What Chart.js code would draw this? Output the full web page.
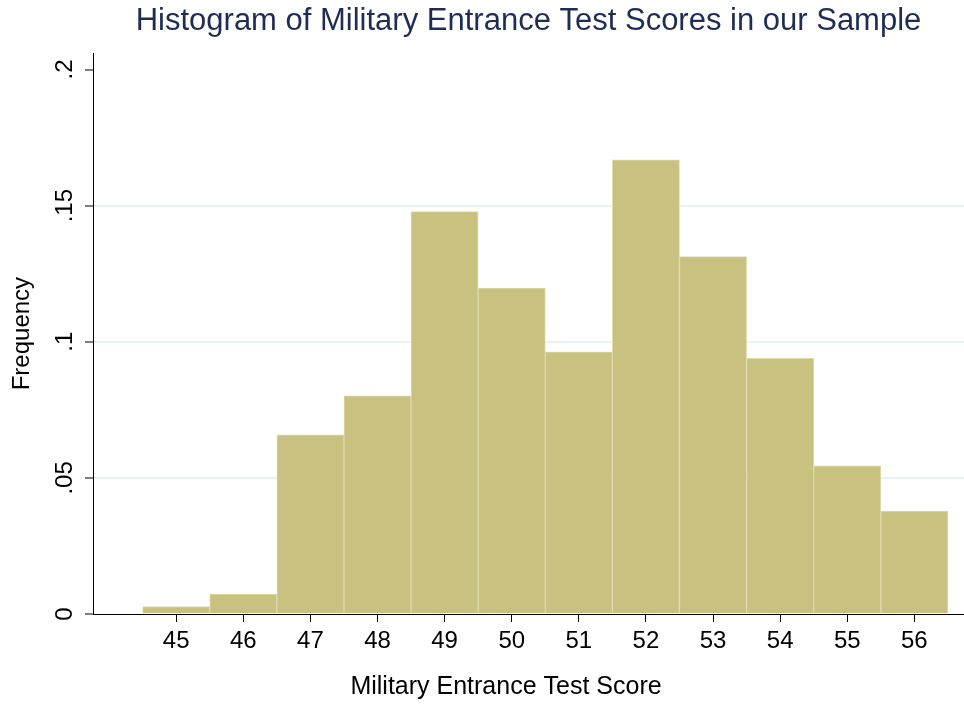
<!DOCTYPE html>
<html>
<head>
<meta charset="utf-8">
<script src="https://cdn.jsdelivr.net/npm/chart.js@4.4.1/dist/chart.umd.min.js"></script>
<style>
  html, body { margin: 0; padding: 0; background: #fff; }
  #wrap { width: 964px; height: 706px; }
</style>
</head>
<body>
<div id="wrap"><canvas id="histChart" width="964" height="706"></canvas></div>
<script>
// histogram bins (bin centre) and density per bin
var scores = [45, 46, 47, 48, 49, 50, 51, 52, 53, 54, 55, 56];
var freq = [0.0027, 0.0073, 0.0658, 0.0801, 0.1478, 0.1197, 0.0963, 0.1668, 0.1313, 0.0939, 0.0544, 0.0378];
var yTicks = [0, 0.05, 0.1, 0.15, 0.2];
var yTickLabels = ['0', '.05', '.1', '.15', '.2'];
var xTitle = 'Military Entrance Test Score';

var fontFamily = '"Liberation Sans", Arial, sans-serif';

// y tick labels are rotated like in Stata, Chart.js won't rotate them on a vertical axis
// x title is a bit left of the plot centre in the original, so it is drawn here too
var stataText = {
    id: 'stataText',
    afterDraw: function (chart) {
        var ctx = chart.ctx;
        var y = chart.scales.y;
        ctx.save();
        ctx.fillStyle = '#000';
        ctx.font = '24px ' + fontFamily;
        ctx.textAlign = 'center';
        ctx.textBaseline = 'alphabetic';
        for (var i = 0; i < yTicks.length; i++) {
            var py = y.getPixelForValue(yTicks[i]);
            ctx.save();
            ctx.translate(72, py);
            ctx.rotate(-Math.PI / 2);
            ctx.fillText(yTickLabels[i], 0, 0);
            ctx.restore();
        }
        ctx.font = '25px ' + fontFamily;
        ctx.textBaseline = 'middle';
        ctx.fillText(xTitle, 506, 687);
        ctx.restore();
    }
};

var data = scores.map(function (s, i) { return { x: s, y: freq[i] }; });

const ctx = document.getElementById('histChart').getContext('2d');
var histChart = new Chart(ctx, {
    type: 'bar',
    data: {
        datasets: [
            {
                label: 'Density',
                data: data,
                backgroundColor: 'rgb(200, 193, 127)',
                borderColor: 'rgb(222, 218, 172)',
                borderWidth: 1,
                barPercentage: 1,
                categoryPercentage: 1
            }
        ]
    },
    options: {
        responsive: false,
        animation: false,
        layout: { padding: 0 },
        plugins: {
            legend: { display: false },
            tooltip: { enabled: false },
            title: {
                display: true,
                fullSize: false,
                text: 'Histogram of Military Entrance Test Scores in our Sample',
                color: '#1e2d53',
                font: { family: fontFamily, size: 31, weight: 'normal' },
                padding: { top: 3, bottom: 13 }
            }
        },
        scales: {
            x: {
                type: 'linear',
                min: 43.76,
                max: 56.74,
                offset: false,
                afterBuildTicks: function (scale) {
                    scale.ticks = scores.map(function (v) { return { value: v }; });
                },
                afterFit: function (scale) { scale.height = 92; },
                grid: {
                    offset: false,
                    drawOnChartArea: false,
                    drawTicks: true,
                    tickLength: 8,
                    tickColor: '#000'
                },
                border: { color: '#000', width: 1 },
                ticks: {
                    color: '#000',
                    padding: 5,
                    maxRotation: 0,
                    autoSkip: false,
                    font: { family: fontFamily, size: 24 }
                },
                title: { display: false }
            },
            y: {
                min: 0,
                max: 0.206,
                afterBuildTicks: function (scale) {
                    scale.ticks = yTicks.map(function (v) { return { value: v }; });
                },
                afterFit: function (scale) { scale.width = 93; },
                grid: {
                    color: function (c) {
                        var v = c.tick ? c.tick.value : 0;
                        return (v > 0.01 && v < 0.19) ? '#eaf2f3' : 'rgba(0,0,0,0)';
                    },
                    lineWidth: 2,
                    drawTicks: true,
                    tickLength: 8,
                    tickColor: '#000',
                    tickWidth: 1
                },
                border: { color: '#000', width: 1 },
                ticks: { display: false },
                title: {
                    display: true,
                    text: 'Frequency',
                    color: '#000',
                    font: { family: fontFamily, size: 24 },
                    padding: { top: 8, bottom: 0 }
                }
            }
        }
    },
    plugins: [stataText]
});
</script>
</body>
</html>
